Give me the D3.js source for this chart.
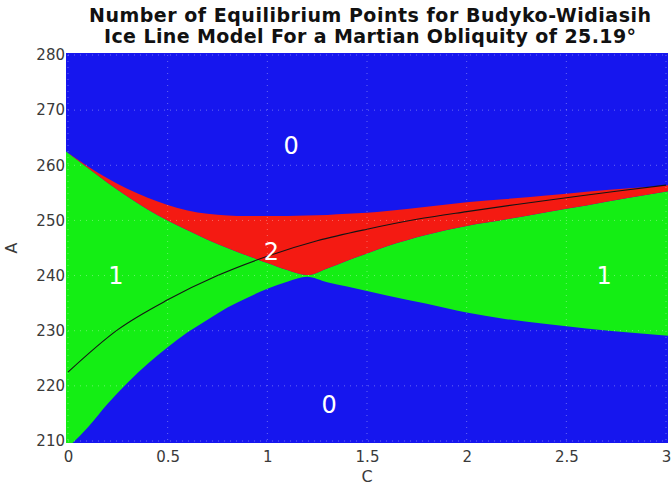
<!DOCTYPE html>
<html>
<head>
<meta charset="utf-8">
<script src="https://cdn.jsdelivr.net/npm/d3@7"></script>
<style>
  body { margin: 0; background: #fff; }
  svg { display: block; font-family: "DejaVu Sans", sans-serif; }
</style>
</head>
<body>
<svg id="chart" width="671" height="489"></svg>
<script>
const cGrid = [0, 0.1, 0.2, 0.3, 0.4, 0.5, 0.6, 0.7, 0.8, 0.9, 1.0, 1.1, 1.2, 1.3, 1.4, 1.5, 1.6,
  1.8, 2.0, 2.2, 2.4, 2.6, 2.8, 3.0];
// curve 1: top of left green wedge, then bottom of right green wedge
const curveOne = [262.5, 259.5, 256.8, 254.3, 252.0, 250.0, 248.2, 246.5, 245.0, 243.6, 242.3, 241.0,
  239.8, 238.8, 238.0, 237.2, 236.4, 234.9, 233.3, 232.1, 231.2, 230.4, 229.7, 229.1];
// curve 2: bottom of left green wedge, then top of right green wedge
const curveTwo = [208.5, 212.5, 216.8, 220.6, 224.0, 227.0, 229.7, 232.0, 234.2, 236.0, 237.6, 238.9,
  240.1, 241.3, 242.7, 244.0, 245.3, 247.4, 249.0, 250.2, 251.5, 252.7, 254.0, 255.3];
// top edge of the two-equilibrium (red) band
const topEdge = [262.5, 259.8, 257.6, 255.7, 254.1, 252.8, 251.8, 251.2, 250.9, 250.8, 250.8, 250.8,
  250.9, 251.0, 251.2, 251.4, 251.7, 252.5, 253.3, 253.9, 254.5, 255.2, 255.8, 256.4];

// black line
const lineC = [0, 0.25, 0.5, 0.75, 1.0, 1.25, 1.5, 1.75, 2.0, 2.25, 2.5, 2.75, 3.0];
const lineA = [222.5, 230.2, 235.6, 240.0, 243.5, 246.3, 248.4, 250.2, 251.6, 252.9, 254.1, 255.3, 256.4];

// region count labels
const labels = [
  { text: '0', c: 1.12, a: 263.5 },
  { text: '0', c: 1.31, a: 216.5 },
  { text: '1', c: 0.24, a: 240.0 },
  { text: '1', c: 2.69, a: 240.0 },
  { text: '2', c: 1.02, a: 244.3 }
];

const xTicks = [0, 0.5, 1, 1.5, 2, 2.5, 3];
const yTicks = [210, 220, 230, 240, 250, 260, 270, 280];

const colors = { zero: '#1616ee', one: '#14ee14', two: '#f41a12' };

const svg = d3.select('#chart');
const x = d3.scaleLinear().domain([0, 3]).range([68, 666]);
const y = d3.scaleLinear().domain([210, 280]).range([441, 55]);

svg.append('defs').append('clipPath').attr('id', 'plot')
  .append('rect')
  .attr('x', x(0) - 2).attr('y', y(280) - 2)
  .attr('width', x(3) - x(0) + 4).attr('height', y(210) - y(280) + 4);

const plot = svg.append('g').attr('clip-path', 'url(#plot)');

plot.append('rect')
  .attr('x', x(0) - 2).attr('y', y(280) - 2)
  .attr('width', x(3) - x(0) + 4).attr('height', y(210) - y(280) + 4)
  .attr('fill', colors.zero);

const rows = cGrid.map((c, i) => ({
  c,
  lo: Math.min(curveOne[i], curveTwo[i]),
  hi: Math.max(curveOne[i], curveTwo[i]),
  top: topEdge[i]
}));

// extend the sampled range a hair beyond the axis so the fill meets the marker edge
const edgeX = (d, i) => (i === 0 ? x(d.c) - 2 : i === rows.length - 1 ? x(d.c) + 2 : x(d.c));

plot.append('path')
  .datum(rows)
  .attr('fill', colors.one)
  .attr('d', d3.area().curve(d3.curveMonotoneX).x(edgeX).y0((d) => y(d.lo)).y1((d) => y(d.hi)));

plot.append('path')
  .datum(rows)
  .attr('fill', colors.two)
  .attr('d', d3.area().curve(d3.curveMonotoneX).x(edgeX).y0((d) => y(d.hi)).y1((d) => y(Math.max(d.top, d.hi))));

// faint dotted grid showing through the markers
plot.append('g')
  .selectAll('line.gx')
  .data(xTicks)
  .join('line')
  .attr('x1', (d) => x(d)).attr('x2', (d) => x(d))
  .attr('y1', y(280)).attr('y2', y(210))
  .attr('stroke', '#fff').attr('stroke-opacity', 0.35)
  .attr('stroke-dasharray', '1,5');
plot.append('g')
  .selectAll('line.gy')
  .data(yTicks)
  .join('line')
  .attr('x1', x(0)).attr('x2', x(3))
  .attr('y1', (d) => y(d)).attr('y2', (d) => y(d))
  .attr('stroke', '#fff').attr('stroke-opacity', 0.35)
  .attr('stroke-dasharray', '1,5');

plot.append('path')
  .datum(lineC.map((c, i) => [c, lineA[i]]))
  .attr('fill', 'none')
  .attr('stroke', '#151515')
  .attr('stroke-width', 1.1)
  .attr('d', d3.line().curve(d3.curveMonotoneX).x((d) => x(d[0])).y((d) => y(d[1])));

plot.append('g')
  .selectAll('text')
  .data(labels)
  .join('text')
  .attr('x', (d) => x(d.c))
  .attr('y', (d) => y(d.a))
  .attr('text-anchor', 'middle')
  .attr('dominant-baseline', 'central')
  .attr('fill', '#fff')
  .attr('font-size', 24)
  .text((d) => d.text);

// axes
const xAxis = svg.append('g')
  .attr('transform', `translate(0,${y(210)})`)
  .call(d3.axisBottom(x).tickValues(xTicks).tickFormat(d3.format('')).tickSize(0).tickPadding(10));
const yAxis = svg.append('g')
  .attr('transform', `translate(${x(0)},0)`)
  .call(d3.axisLeft(y).tickValues(yTicks).tickSize(0).tickPadding(3));
[xAxis, yAxis].forEach((g) => {
  g.select('.domain').remove();
  g.selectAll('text').attr('fill', '#3a3a3a').attr('font-size', 15).attr('font-family', '"DejaVu Sans", sans-serif');
});

svg.append('text')
  .attr('x', x(1.5)).attr('y', 482)
  .attr('text-anchor', 'middle')
  .attr('fill', '#3a3a3a').attr('font-size', 16)
  .text('C');
svg.append('text')
  .attr('transform', `translate(17,${y(245)}) rotate(-90)`)
  .attr('text-anchor', 'middle')
  .attr('fill', '#3a3a3a').attr('font-size', 16)
  .text('A');

const title = svg.append('text')
  .attr('text-anchor', 'middle')
  .attr('font-weight', 'bold')
  .attr('font-size', 19)
  .attr('fill', '#111');
title.append('tspan').attr('x', 370).attr('y', 22)
  .attr('textLength', 562).attr('lengthAdjust', 'spacing')
  .text('Number of Equilibrium Points for Budyko-Widiasih');
title.append('tspan').attr('x', 370).attr('y', 43)
  .attr('textLength', 532).attr('lengthAdjust', 'spacing')
  .text('Ice Line Model For a Martian Obliquity of 25.19°');
</script>
</body>
</html>
